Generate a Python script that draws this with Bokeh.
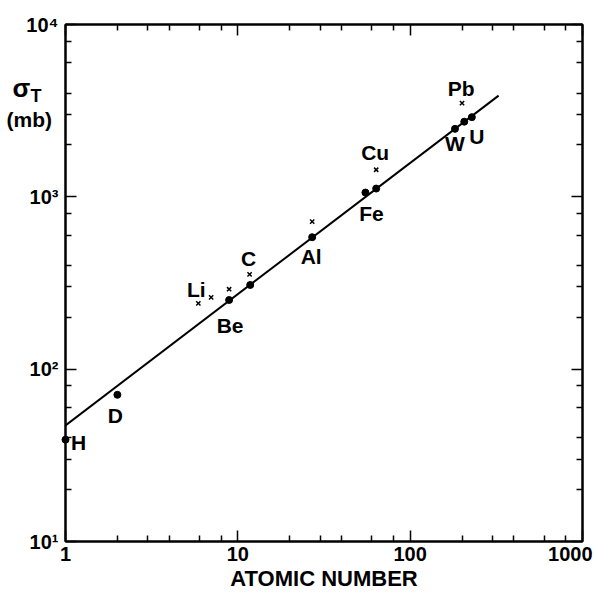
import math
from bokeh.plotting import figure
from bokeh.models import (FixedTicker, LabelSet, ColumnDataSource,
                          LogAxis, Range1d, CustomLabelingPolicy)
from bokeh.core.properties import value
from bokeh.embed import file_html
from bokeh.resources import INLINE

# ---------------- data ----------------
# filled dots
dot_a = [1, 2, 8.9, 11.8, 27, 55, 63.5, 182, 206, 228]
dot_sigma = [39, 71, 252, 308, 583, 1059, 1117, 2480, 2730, 2900]
# crosses
cross_a = [5.9, 7, 8.9, 11.7, 27, 63.5, 200]
cross_sigma = [241, 261, 291, 355, 718, 1436, 3500]
# straight-line fit
fit_a = [1, 326]
fit_sigma = [47.2, 3865]

# element labels, anchored on a point
label_names = ["H", "D", "Be", "Li", "C", "Al", "Fe", "Cu", "W", "Pb", "U"]
label_a = [1, 2, 8.9, 5.9, 11.7, 27, 55, 63.5, 182, 200, 228]
label_sigma = [39, 71, 252, 241, 355, 583, 1059, 1436, 2480, 3500, 2900]

x_ticks = [1, 10, 100, 1000]
x_tick_labels = ["1", "10", "100", "1000"]
y_ticks = [10, 100, 1000, 10000]
y_tick_labels = ["10\u00b9", "10\u00b2", "10\u00b3", "10\u2074"]
minor_mult = [2, 3, 4, 6, 8]

x_title = "ATOMIC NUMBER"
y_title = ["\u03c3", "T", "(mb)"]

# ---------------- layout / style ----------------
label_dx = [13, -2, 1, -2, -1, -1, 6, -1, 0, -1, 5]
label_dy = [-3, -21, -26, 14, 16, -19, -21, 17, -15, 15, -19]

FONT = "Liberation Sans"

x_minor = [m * 10 ** k for k in range(3) for m in minor_mult]
y_minor = [m * 10 ** k for k in range(1, 4) for m in minor_mult]

p = figure(width=595, height=599, x_axis_type="log", y_axis_type="log",
           x_range=Range1d(x_ticks[0], x_ticks[-1]),
           y_range=Range1d(y_ticks[0], y_ticks[-1]),
           output_backend="svg", toolbar_location=None,
           min_border_left=65, min_border_right=13,
           min_border_top=24, min_border_bottom=58)
p.xgrid.visible = False
p.ygrid.visible = False
p.outline_line_color = "black"
p.outline_line_width = 2
p.background_fill_color = "white"
p.border_fill_color = "white"

bottom = p.below[0]
left = p.left[0]
top = LogAxis()
right = LogAxis()
p.add_layout(top, "above")
p.add_layout(right, "right")

for ax in [bottom, top]:
    ax.ticker = FixedTicker(ticks=x_ticks, minor_ticks=x_minor)
for ax in [left, right]:
    ax.ticker = FixedTicker(ticks=y_ticks, minor_ticks=y_minor)

for ax in [bottom, left, top, right]:
    ax.axis_line_width = 2
    ax.axis_line_color = "black"
    ax.major_tick_in = 11
    ax.major_tick_out = 0
    ax.minor_tick_in = 6
    ax.minor_tick_out = 0
    ax.major_tick_line_width = 1.5
    ax.minor_tick_line_width = 1.5
    ax.major_tick_line_color = "black"
    ax.minor_tick_line_color = "black"
    ax.major_label_text_font = FONT
    ax.major_label_text_font_style = "bold"
    ax.major_label_text_font_size = "20px"
    ax.major_label_text_color = "black"

# mirrored axes: ticks only, no labels
for ax in [top, right]:
    ax.major_label_text_font_size = "2px"
    ax.major_label_standoff = 0
    ax.major_label_policy = CustomLabelingPolicy(
        code="for (const i of [...indices]) indices.unset(i); return indices")

bottom.major_label_overrides = dict(zip(x_ticks, x_tick_labels))
bottom.major_label_standoff = 5
# the last label is drawn separately so that it stays inside the canvas
bottom.major_label_policy = CustomLabelingPolicy(
    code="for (const i of [...indices]) if (i == 3) indices.unset(i); return indices")
bottom.axis_label = x_title
bottom.axis_label_standoff = 2
bottom.axis_label_text_font = FONT
bottom.axis_label_text_font_style = "bold"
bottom.axis_label_text_font_size = "22px"
bottom.axis_label_text_color = "black"

left.major_label_overrides = dict(zip(y_ticks, y_tick_labels))
left.major_label_standoff = 7

p.line(fit_a, fit_sigma, line_width=2, color="black")
p.scatter(cross_a, cross_sigma, marker="x", size=6, line_width=1.5, color="black")
p.scatter(dot_a, dot_sigma, marker="circle", size=7, color="black", level="overlay")

src = ColumnDataSource(dict(x=label_a, y=label_sigma, name=label_names,
                            dx=label_dx, dy=label_dy))
p.add_layout(LabelSet(source=src, x="x", y="y", text="name",
                      x_offset="dx", y_offset="dy",
                      text_align="center", text_baseline="middle",
                      text_font=value(FONT), text_font_style="bold",
                      text_font_size="21px", text_color="black"))

# texts outside the frame (overlay level, so that they are not clipped)
x0, x1 = x_ticks[0], x_ticks[-1]
y0, y1 = y_ticks[0], y_ticks[-1]

p.text(x=[x1], y=[y0], text=[x_tick_labels[-1]], x_offset=10, y_offset=5,
       text_align="right", text_baseline="top", text_font=value(FONT),
       text_font_style="bold", text_font_size="20px", text_color="black",
       level="overlay")
p.text(x=[x0], y=[y1], text=[y_title[0]], x_offset=-53, y_offset=63,
       text_align="left", text_baseline="alphabetic", text_font=value(FONT),
       text_font_style="bold", text_font_size="26px", text_color="black",
       level="overlay")
p.text(x=[x0], y=[y1], text=[y_title[1]], x_offset=-35, y_offset=71,
       text_align="left", text_baseline="alphabetic", text_font=value(FONT),
       text_font_style="bold", text_font_size="18px", text_color="black",
       level="overlay")
p.text(x=[x0], y=[y1], text=[y_title[2]], x_offset=-59, y_offset=95,
       text_align="left", text_baseline="middle", text_font=value(FONT),
       text_font_style="bold", text_font_size="21px", text_color="black",
       level="overlay")

open("out.html", "w").write(file_html(p, INLINE))
